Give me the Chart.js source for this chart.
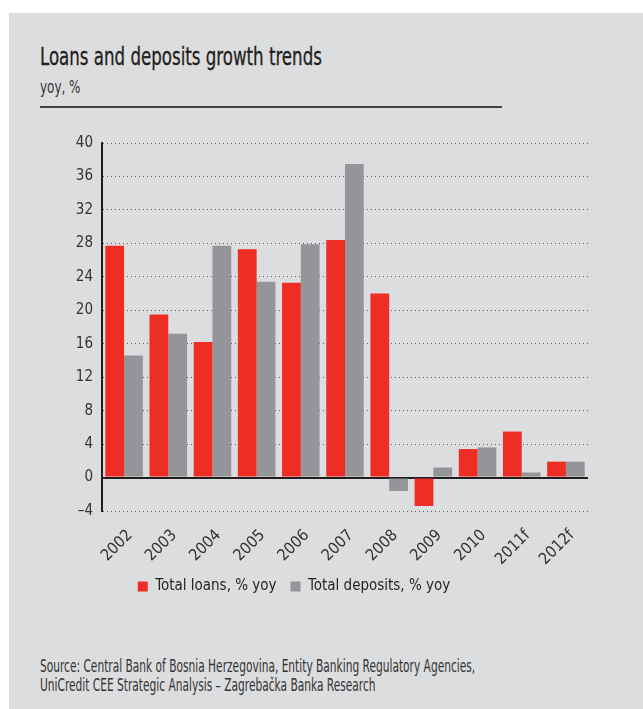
<!DOCTYPE html>
<html>
<head>
<meta charset="utf-8">
<script src="https://cdn.jsdelivr.net/npm/chart.js@4/dist/chart.umd.min.js"></script>
<style>
  html, body { margin: 0; padding: 0; background: #fff; }
  body { width: 643px; height: 709px; position: relative; overflow: hidden;
         font-family: 'DejaVu Sans Condensed', 'DejaVu Sans', sans-serif; color: #231f20; }
  .panel { position: absolute; left: 9px; top: 13px; right: 0; bottom: 0; background: #dcdddf; }
  .narrow { position: absolute; left: 40px; white-space: nowrap; transform: scaleX(0.74); transform-origin: 0 0; }
  .title { top: 42px; font-size: 25px; -webkit-text-stroke: 0.3px #231f20; }
  .sub { top: 76px; font-size: 18px; color: #333; }
  .rule { position: absolute; left: 40px; top: 106px; width: 462px; height: 2px; background: #444; }
  .source { top: 657px; font-size: 17px; line-height: 19px; color: #333; transform: scaleX(0.695); }
  canvas { position: absolute; left: 0; top: 0; }
</style>
</head>
<body>
<div class="panel"></div>
<div class="narrow title">Loans and deposits growth trends</div>
<div class="narrow sub">yoy, %</div>
<div class="rule"></div>
<div class="narrow source">Source: Central Bank of Bosnia Herzegovina, Entity Banking Regulatory Agencies,<br>UniCredit CEE Strategic Analysis – Zagrebačka Banka Research</div>
<canvas id="growth" width="643" height="709"></canvas>
<script>
const years = ['2002', '2003', '2004', '2005', '2006', '2007', '2008', '2009', '2010', '2011f', '2012f'];
const loans = [27.7, 19.5, 16.2, 27.3, 23.3, 28.4, 22.0, -3.4, 3.4, 5.5, 1.9];
const deposits = [14.6, 17.2, 27.7, 23.4, 27.9, 37.5, -1.6, 1.2, 3.6, 0.6, 1.9];
const yMin = -4, yMax = 40, yStep = 4;

const narrow = "'DejaVu Sans Condensed', 'DejaVu Sans', sans-serif";

new Chart(document.getElementById('growth'), {
  type: 'bar',
  data: {
    labels: years,
    datasets: [
      { label: 'Total loans, % yoy', data: loans, backgroundColor: '#ee2e24', borderWidth: 0 },
      { label: 'Total deposits, % yoy', data: deposits, backgroundColor: '#939598', borderWidth: 0 }
    ]
  },
  options: {
    responsive: false,
    animation: false,
    layout: { padding: { top: 143, left: 0, right: 55, bottom: 105 } },
    datasets: { bar: { categoryPercentage: 0.85, barPercentage: 1.0 } },
    plugins: {
      tooltip: { enabled: false },
      legend: {
        position: 'bottom',
        labels: {
          boxWidth: 10, boxHeight: 10, padding: 14,
          color: '#231f20',
          font: { family: narrow, size: 15 }
        }
      }
    },
    scales: {
      x: {
        grid: { display: false },
        border: { display: false },
        ticks: {
          minRotation: 45, maxRotation: 45, padding: 7, labelOffset: 6,
          color: '#333',
          font: { family: narrow, size: 16 }
        },
        // keep the plot bottom fixed; labels are clipped to this box
        afterFit: function(scale) { scale.height = 54; }
      },
      y: {
        min: yMin, max: yMax,
        grid: {
          drawTicks: false,
          color: ctx => (ctx.tick && ctx.tick.value === 0) ? '#231f20' : '#555',
          lineWidth: ctx => (ctx.tick && ctx.tick.value === 0) ? 2 : 1
        },
        border: {
          display: true, color: '#231f20', width: 2,
          dash: ctx => (ctx.tick && ctx.tick.value !== 0) ? [1, 3] : []
        },
        ticks: {
          stepSize: yStep, padding: 9,
          color: '#333',
          font: { family: narrow, size: 15 },
          callback: v => v < 0 ? '–' + Math.abs(v) : String(v)
        },
        afterFit: function(scale) { scale.width = 102; }
      }
    }
  }
});
</script>
</body>
</html>
